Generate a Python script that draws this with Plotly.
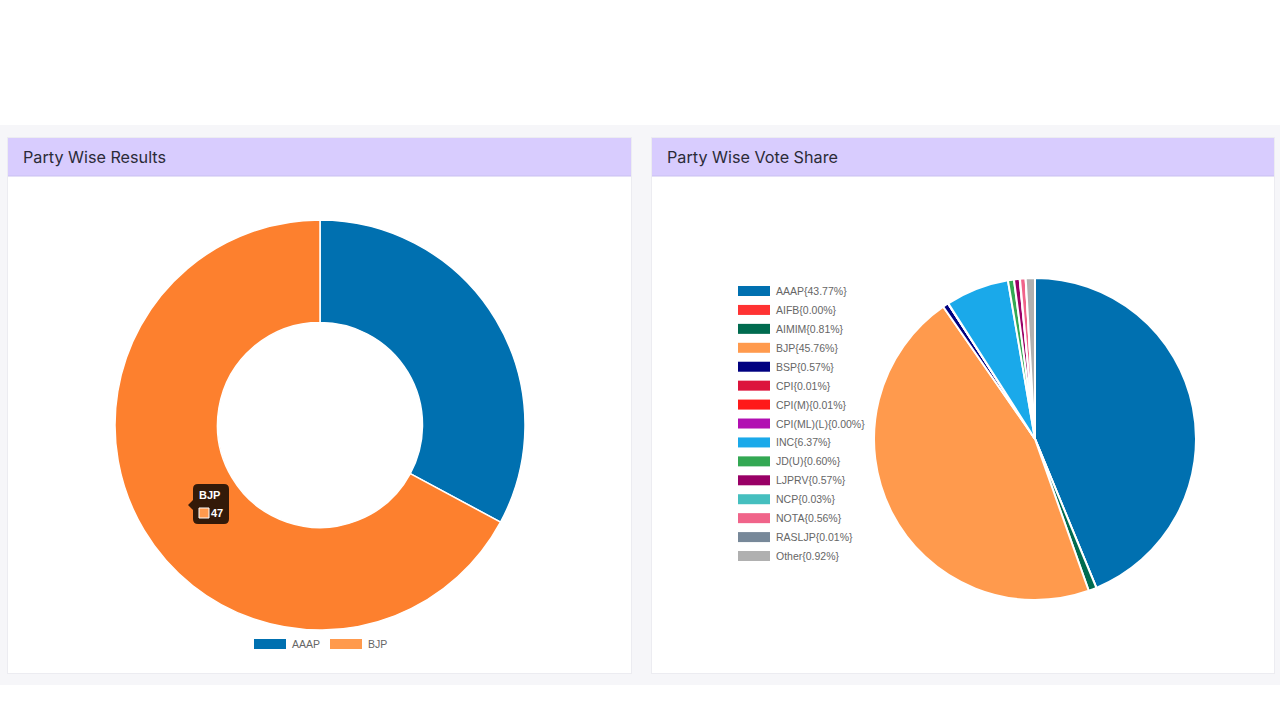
import plotly.graph_objects as go

# ---------------- data ----------------
seat_parties = ["AAAP", "BJP"]
seat_counts = [23, 47]
seat_colors = ["#0070b0", "#ff9a4d"]
seat_hover_colors = ["#0070b0", "#fd802e"]

vote_parties = ["AAAP", "AIFB", "AIMIM", "BJP", "BSP", "CPI", "CPI(M)", "CPI(ML)(L)",
                "INC", "JD(U)", "LJPRV", "NCP", "NOTA", "RASLJP", "Other"]
vote_share = [43.77, 0.00, 0.81, 45.76, 0.57, 0.01, 0.01, 0.00,
              6.37, 0.60, 0.57, 0.03, 0.56, 0.01, 0.92]
vote_colors = ["#0070b0", "#ff3333", "#006b4f", "#ff9a4d", "#000080", "#dc143c", "#ff1a1a",
               "#b20fb2", "#1aa9ea", "#33a853", "#990066", "#45bfbf", "#f0648a",
               "#778899", "#b0b0b0"]

titles = ["Party Wise Results", "Party Wise Vote Share"]

W, H = 1280, 720


def px(x):
    return x / W


def py(y):
    return 1 - y / H


fig = go.Figure()

# left donut (BJP in hovered state)
fig.add_trace(go.Pie(
    labels=seat_parties, values=seat_counts, hole=0.5, sort=False,
    direction="clockwise", rotation=0, textinfo="none", hoverinfo="skip",
    marker=dict(colors=seat_hover_colors, line=dict(color="#ffffff", width=1.5)),
    domain=dict(x=[px(115), px(525)], y=[py(630), py(220)]), showlegend=False,
))

# right pie
fig.add_trace(go.Pie(
    labels=vote_parties, values=vote_share, sort=False,
    direction="clockwise", rotation=0, textinfo="none", hoverinfo="skip",
    marker=dict(colors=vote_colors, line=dict(color="#ffffff", width=2)),
    domain=dict(x=[px(874), px(1196)], y=[py(600), py(278)]), showlegend=False,
))

shapes = []
annotations = []

# page background band
shapes.append(dict(type="rect", xref="paper", yref="paper", layer="below",
                   x0=0, x1=1, y0=py(685), y1=py(125),
                   fillcolor="#f6f6f9", line=dict(width=0)))

cards = [(8, 631), (652, 1274)]
for (cx0, cx1), title in zip(cards, titles):
    shapes.append(dict(type="rect", xref="paper", yref="paper", layer="below",
                       x0=px(cx0 - 1), x1=px(cx1 + 1), y0=py(674), y1=py(137),
                       fillcolor="#ececf1", line=dict(width=0)))
    shapes.append(dict(type="rect", xref="paper", yref="paper", layer="below",
                       x0=px(cx0), x1=px(cx1), y0=py(673), y1=py(138),
                       fillcolor="#ffffff", line=dict(width=0)))
    shapes.append(dict(type="rect", xref="paper", yref="paper", layer="below",
                       x0=px(cx0), x1=px(cx1), y0=py(176), y1=py(138),
                       fillcolor="#d8ccfe", line=dict(width=0)))
    shapes.append(dict(type="line", xref="paper", yref="paper", layer="below",
                       x0=px(cx0), x1=px(cx1), y0=py(176), y1=py(176),
                       line=dict(color="#c9c0f0", width=1)))
    annotations.append(dict(xref="paper", yref="paper", x=px(cx0 + 13), y=py(157),
                            xanchor="left", yanchor="middle", showarrow=False,
                            text=title,
                            font=dict(family="Inter, Lato, sans-serif", size=16.2, color="#2b2b38")))

legend_font = dict(family="Liberation Sans, Arial, sans-serif", size=10.5, color="#666666")

# left legend (horizontal)
lx = 254
for name, col in zip(seat_parties, seat_colors):
    shapes.append(dict(type="rect", xref="paper", yref="paper",
                       x0=px(lx), x1=px(lx + 32), y0=py(649), y1=py(639),
                       fillcolor=col, line=dict(width=0)))
    annotations.append(dict(xref="paper", yref="paper", x=px(lx + 36), y=py(644),
                            xanchor="left", yanchor="middle", showarrow=False,
                            text=name, font=legend_font))
    lx += 38 + len(name) * 7 + 10

# right legend (vertical)
ry = 291
for name, val, col in zip(vote_parties, vote_share, vote_colors):
    shapes.append(dict(type="rect", xref="paper", yref="paper",
                       x0=px(738), x1=px(770), y0=py(ry + 5), y1=py(ry - 5),
                       fillcolor=col, line=dict(width=0)))
    annotations.append(dict(xref="paper", yref="paper", x=px(774), y=py(ry),
                            xanchor="left", yanchor="middle", showarrow=False,
                            text=f"{name}{{{val:.2f}%}}", font=legend_font))
    ry += 18.93

# tooltip on BJP slice
tx0, tx1, ty0, ty1, r = 193, 229, 484, 524, 5
path = (f"M {px(tx0 + r)},{py(ty0)} L {px(tx1 - r)},{py(ty0)} "
        f"Q {px(tx1)},{py(ty0)} {px(tx1)},{py(ty0 + r)} "
        f"L {px(tx1)},{py(ty1 - r)} Q {px(tx1)},{py(ty1)} {px(tx1 - r)},{py(ty1)} "
        f"L {px(tx0 + r)},{py(ty1)} Q {px(tx0)},{py(ty1)} {px(tx0)},{py(ty1 - r)} "
        f"L {px(tx0)},{py(510)} L {px(tx0 - 5)},{py(505)} L {px(tx0)},{py(500)} "
        f"L {px(tx0)},{py(ty0 + r)} Q {px(tx0)},{py(ty0)} {px(tx0 + r)},{py(ty0)} Z")
shapes.append(dict(type="path", xref="paper", yref="paper", path=path,
                   fillcolor="rgba(0,0,0,0.8)", line=dict(width=0)))
shapes.append(dict(type="rect", xref="paper", yref="paper",
                   x0=px(199), x1=px(209), y0=py(518), y1=py(508),
                   fillcolor=seat_colors[1], line=dict(color="#ffffff", width=1)))
annotations.append(dict(xref="paper", yref="paper", x=px(197), y=py(495),
                        xanchor="left", yanchor="middle", showarrow=False,
                        text=f"<b>{seat_parties[1]}</b>",
                        font=dict(family="Liberation Sans, Arial, sans-serif", size=11, color="#ffffff")))
annotations.append(dict(xref="paper", yref="paper", x=px(209), y=py(513),
                        xanchor="left", yanchor="middle", showarrow=False,
                        text=f"<b>{seat_counts[1]}</b>",
                        font=dict(family="Liberation Sans, Arial, sans-serif", size=11, color="#ffffff")))

fig.update_layout(
    width=W, height=H, margin=dict(l=0, r=0, t=0, b=0),
    paper_bgcolor="#ffffff", plot_bgcolor="#ffffff",
    shapes=shapes, annotations=annotations, showlegend=False,
)

fig.write_html("out.html")
